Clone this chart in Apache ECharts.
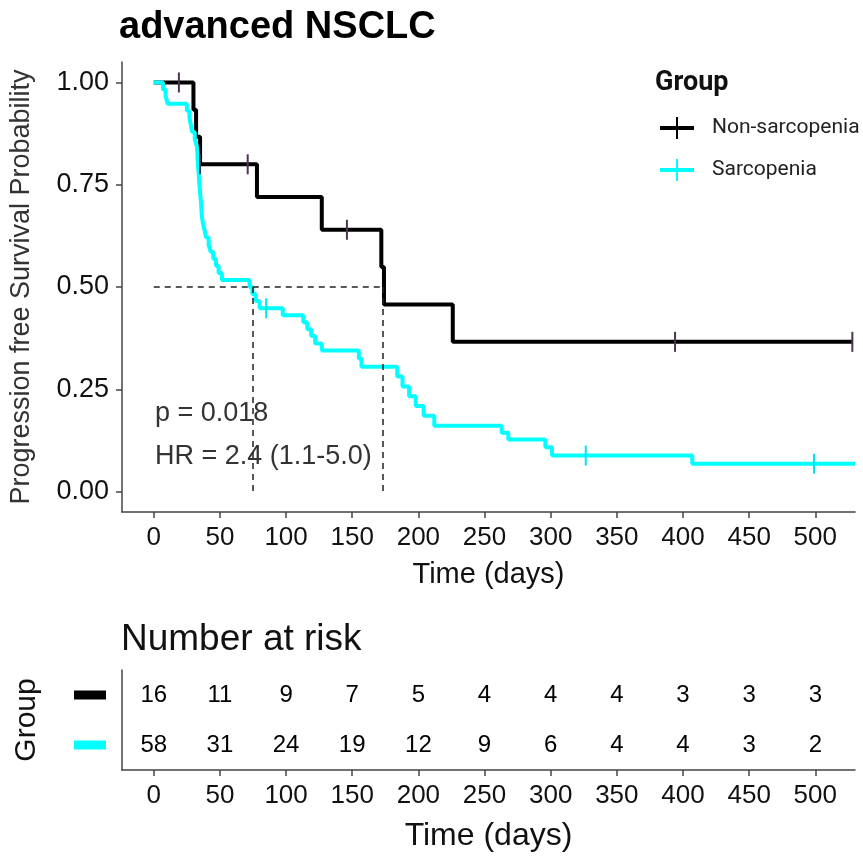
<!DOCTYPE html>
<html lang="en">
<head>
<meta charset="UTF-8">
<title>advanced NSCLC</title>
<script src="https://cdn.jsdelivr.net/npm/echarts@6/dist/echarts.min.js"></script>
</head>
<body style="margin:0;background:#fff">
<div id="main" style="width:863px;height:858px;"></div>
<script>
const chart = echarts.init(document.getElementById('main'));

// axis ticks
const dayTicks = [0, 50, 100, 150, 200, 250, 300, 350, 400, 450, 500];
const probTicks = [0, 0.25, 0.5, 0.75, 1];
const groups = ['Non-sarcopenia', 'Sarcopenia'];

// Kaplan-Meier steps (day, survival after the step)
const nonTime = [0, 30, 32, 35, 78, 127, 172, 174, 226, 528];
const nonSurv = [1.0, 0.933, 0.867, 0.800, 0.720, 0.640, 0.549, 0.457, 0.366, 0.366];
const nonCensorTime = [19, 35, 71, 146, 394, 528];
const nonCensorSurv = [1.0, 0.800, 0.800, 0.640, 0.366, 0.366];

const sarTime = [0, 7, 9, 10.5, 25, 27, 28, 29, 31, 32.5, 33, 33.2, 33.5, 34, 34.3, 34.8, 35.2, 35.7, 36, 36.4,
  37.2, 38.5, 39.5, 41.5, 43, 45, 47, 49, 51.5, 72.5, 74.5, 77, 80, 97.5, 113, 116, 119, 122, 127,
  155, 157, 184, 188, 193, 198, 204, 212, 263, 268, 296, 301, 407, 530];
const sarSurv = [1.0, 0.983, 0.966, 0.948, 0.931, 0.914, 0.897, 0.879, 0.862, 0.845, 0.828, 0.810, 0.793, 0.776, 0.759, 0.741, 0.724, 0.707, 0.690, 0.672,
  0.655, 0.638, 0.621, 0.603, 0.586, 0.569, 0.552, 0.534, 0.517, 0.500, 0.483, 0.466, 0.448, 0.431, 0.414, 0.397, 0.380, 0.362, 0.345,
  0.325, 0.305, 0.281, 0.257, 0.233, 0.209, 0.185, 0.161, 0.144, 0.127, 0.108, 0.088, 0.068, 0.068];
const sarCensorTime = [85, 326.5, 499];
const sarCensorSurv = [0.448, 0.088, 0.068];

// median survival (non-sarcopenia, sarcopenia)
const medianDays = [172.8, 74.5];
const medianLevel = 0.5;

// number at risk
const riskNon = [16, 11, 9, 7, 5, 4, 4, 4, 3, 3, 3];
const riskSar = [58, 31, 24, 19, 12, 9, 6, 4, 4, 3, 2];

const zip = (a, b) => a.map((v, i) => [v, b[i]]);
const FONT = 'Liberation Sans';
const crossIcon = 'path://M0,9 L34,9 L34,13 L0,13 Z M16,0 L18,0 L18,22 L16,22 Z';

function timeAxis(gridIndex, labelSize, nameSize, nameGap) {
    return {
        gridIndex: gridIndex,
        type: 'value',
        position: 'bottom',
        min: -24,
        max: 530,
        name: 'Time (days)',
        nameLocation: 'middle',
        nameGap: nameGap,
        nameTextStyle: { fontSize: nameSize, color: '#111', fontFamily: FONT },
        axisLine: { show: true, onZero: false, lineStyle: { color: '#444', width: 1.5 } },
        axisTick: { show: true, customValues: dayTicks, length: 6, lineStyle: { color: '#444', width: 1.5 } },
        axisLabel: { customValues: dayTicks, fontSize: labelSize, color: '#111', fontFamily: FONT, margin: 13 },
        splitLine: { show: false }
    };
}

const medianLines = [
    [{ coord: [0, medianLevel] }, { coord: [medianDays[0], medianLevel] }],
    [{ coord: [medianDays[1], medianLevel] }, { coord: [medianDays[1], 0] }],
    [{ coord: [medianDays[0], medianLevel] }, { coord: [medianDays[0], 0] }]
];

const riskLabel = {
    show: true, position: 'inside', formatter: p => p.value[2],
    fontSize: 24, color: '#000', fontFamily: FONT
};

const option = {
    backgroundColor: '#fff',
    animation: false,
    title: [
        { text: 'advanced NSCLC', left: 119, top: 9, padding: 0,
          textStyle: { fontSize: 38, fontWeight: 'bold', color: '#000', fontFamily: FONT } },
        { text: 'Number at risk', left: 121, top: 621, padding: 0,
          textStyle: { fontSize: 37, fontWeight: 'normal', color: '#111', fontFamily: FONT } }
    ],
    legend: {
        left: 655,
        top: 112,
        orient: 'vertical',
        itemWidth: 34,
        itemHeight: 22,
        itemGap: 20,
        selectedMode: false,
        textStyle: { fontSize: 21, color: '#222', fontFamily: 'Roboto', padding: [0, 0, 0, 13] },
        data: [
            { name: groups[0], icon: crossIcon },
            { name: groups[1], icon: crossIcon }
        ]
    },
    graphic: [
        { type: 'text', left: 655, top: 70,
          style: { text: 'Group', fontSize: 27, fontWeight: 'bold', fontFamily: 'Roboto', fill: '#111' } },
        { type: 'text', left: 155, top: 400,
          style: { text: 'p = 0.018', fontSize: 27, fontFamily: FONT, fill: '#333' } },
        { type: 'text', left: 155, top: 443,
          style: { text: 'HR = 2.4 (1.1-5.0)', fontSize: 27, fontFamily: FONT, fill: '#333' } }
    ],
    grid: [
        { left: 122, top: 62, right: 8, height: 450 },
        { left: 122, top: 670, right: 8, height: 100 }
    ],
    xAxis: [
        timeAxis(0, 26, 29, 48),
        timeAxis(1, 26, 32, 50)
    ],
    yAxis: [
        {
            gridIndex: 0,
            type: 'value',
            min: -0.05,
            max: 1.05,
            name: 'Progression free Survival Probability',
            nameLocation: 'middle',
            nameGap: 87,
            nameTextStyle: { fontSize: 27, color: '#333', fontFamily: FONT },
            axisLine: { show: true, onZero: false, lineStyle: { color: '#444', width: 1.5 } },
            axisTick: { show: true, customValues: probTicks, length: 6, lineStyle: { color: '#444', width: 1.5 } },
            axisLabel: { customValues: probTicks, fontSize: 27, color: '#111', fontFamily: FONT, margin: 13,
                         formatter: v => v.toFixed(2) },
            splitLine: { show: false }
        },
        {
            gridIndex: 1,
            type: 'category',
            data: [groups[1], groups[0]],
            name: 'Group',
            nameLocation: 'middle',
            nameGap: 80,
            nameTextStyle: { fontSize: 30, color: '#111', fontFamily: FONT },
            axisLine: { show: true, onZero: false, lineStyle: { color: '#444', width: 1.5 } },
            axisTick: { show: false },
            axisLabel: {
                margin: 16,
                formatter: v => v === groups[0] ? '{a|}' : '{b|}',
                rich: {
                    a: { backgroundColor: '#000', width: 32, height: 9 },
                    b: { backgroundColor: '#00ffff', width: 32, height: 9 }
                }
            },
            splitLine: { show: false }
        }
    ],
    series: [
        {
            name: groups[0],
            type: 'line',
            step: 'end',
            showSymbol: false,
            color: '#000',
            lineStyle: { color: '#000', width: 4 },
            data: zip(nonTime, nonSurv),
            z: 2,
            markLine: {
                silent: true,
                symbol: 'none',
                label: { show: false },
                lineStyle: { color: '#222', type: [6, 5], width: 1.5 },
                data: medianLines
            }
        },
        {
            name: groups[1],
            type: 'line',
            step: 'end',
            showSymbol: false,
            color: '#00ffff',
            lineStyle: { color: '#00ffff', width: 4 },
            data: zip(sarTime, sarSurv),
            z: 3
        },
        {
            name: 'censor-non',
            type: 'scatter',
            symbol: 'rect',
            symbolSize: [2, 20],
            itemStyle: { color: '#4b3550', opacity: 1 },
            data: zip(nonCensorTime, nonCensorSurv),
            z: 4
        },
        {
            name: 'censor-sar',
            type: 'scatter',
            symbol: 'rect',
            symbolSize: [2, 20],
            itemStyle: { color: '#00e5ee', opacity: 1 },
            data: zip(sarCensorTime, sarCensorSurv),
            z: 4
        },
        {
            name: 'risk-non',
            type: 'scatter',
            xAxisIndex: 1,
            yAxisIndex: 1,
            symbolSize: 0,
            itemStyle: { opacity: 1 },
            label: riskLabel,
            data: dayTicks.map((d, i) => [d, groups[0], riskNon[i]])
        },
        {
            name: 'risk-sar',
            type: 'scatter',
            xAxisIndex: 1,
            yAxisIndex: 1,
            symbolSize: 0,
            itemStyle: { opacity: 1 },
            label: riskLabel,
            data: dayTicks.map((d, i) => [d, groups[1], riskSar[i]])
        }
    ]
};

chart.setOption(option);
</script>
</body>
</html>
